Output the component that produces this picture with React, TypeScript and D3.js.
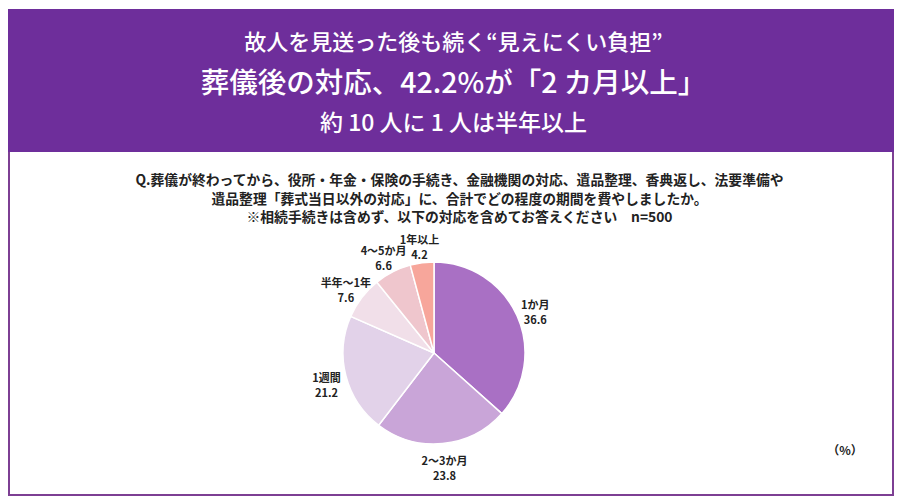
import React from 'react';
import { pie, arc, PieArcDatum } from 'd3';

const W = 907;
const H = 502;

const titleLines = [
  '故人を見送った後も続く“見えにくい負担”',
  '葬儀後の対応、42.2%が「2 カ月以上」',
  '約 10 人に 1 人は半年以上',
];
const questionLines = [
  'Q.葬儀が終わってから、役所・年金・保険の手続き、金融機関の対応、遺品整理、香典返し、法要準備や',
  '遺品整理「葬式当日以外の対応」に、合計でどの程度の期間を費やしましたか。',
  '※相続手続きは含めず、以下の対応を含めてお答えください　n=500',
];

// clockwise from 12 o'clock
const categories = ['1か月', '2～3か月', '1週間', '半年～1年', '4～5か月', '1年以上'];
const values = [36.6, 23.8, 21.2, 7.6, 6.6, 4.2];
const colors = ['#a970c4', '#c9a5d8', '#e2d2e9', '#f1dfe9', '#efc6cd', '#f7a69b'];

const font = '"Noto Sans CJK JP", "Noto Sans", sans-serif';

interface Slice {
  name: string;
  value: number;
  color: string;
}

const data: Slice[] = categories.map((name, i) => ({ name, value: values[i], color: colors[i] }));

const cx = 434;
const cy = 353;
const radius = 91;
const labelRadius = 111;

const App: React.FC = () => {
  const arcs = pie<Slice>()
    .sort(null)
    .value(d => d.value)(data);

  const sliceArc = arc<PieArcDatum<Slice>>().innerRadius(0).outerRadius(radius);
  const labelArc = arc<PieArcDatum<Slice>>().innerRadius(labelRadius).outerRadius(labelRadius);

  return (
    <svg
      width={W}
      height={H}
      style={{ position: 'absolute', left: 0, top: 0, display: 'block', background: '#fff' }}
    >
      {/* frame */}
      <rect x={9} y={10} width={884} height={485} fill="#fff" stroke="#7d3f93" strokeWidth={2} />
      <rect x={8} y={9} width={886} height={143} fill="#6e2e9b" />

      {/* header */}
      <g fill="#fff" fontFamily={font} textAnchor="middle" fontWeight={500}>
        <text x={W / 2} y={50} fontSize={22}>{titleLines[0]}</text>
        <text x={W / 2} y={93} fontSize={28.5}>{titleLines[1]}</text>
        <text x={W / 2} y={131} fontSize={23}>{titleLines[2]}</text>
      </g>

      {/* question */}
      <g fill="#222" fontFamily={font} textAnchor="middle" fontWeight={700} fontSize={13.8}>
        {questionLines.map((line, i) => (
          <text key={i} x={W / 2 + 6} y={185 + i * 18.5}>{line}</text>
        ))}
      </g>

      {/* pie */}
      <g transform={`translate(${cx},${cy})`}>
        {arcs.map((a, i) => (
          <path key={i} d={sliceArc(a) ?? ''} fill={a.data.color} stroke="#fff" strokeWidth={1.5} />
        ))}
        {arcs.map((a, i) => {
          const [lx, ly] = labelArc.centroid(a);
          return (
            <text
              key={`l${i}`}
              x={lx}
              y={ly}
              textAnchor="middle"
              fontFamily={font}
              fontWeight={700}
              fontSize={11}
              fill="#222"
            >
              <tspan x={lx} dy={1}>{a.data.name}</tspan>
              <tspan x={lx} dy={15}>{a.data.value.toFixed(1)}</tspan>
            </text>
          );
        })}
      </g>

      <text x={845} y={455} textAnchor="middle" fontFamily={font} fontWeight={700} fontSize={12} fill="#222">
        （%）
      </text>
    </svg>
  );
};

export default App;
